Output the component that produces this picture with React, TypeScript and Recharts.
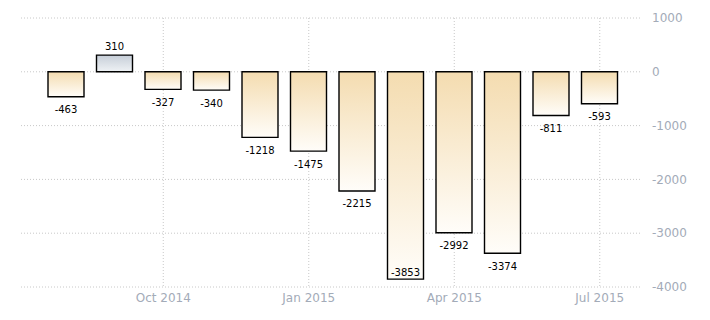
import { BarChart, Bar, XAxis, YAxis, CartesianGrid, Cell, LabelList } from "recharts";

const months = [
  "Aug 2014", "Sep 2014", "Oct 2014", "Nov 2014", "Dec 2014", "Jan 2015",
  "Feb 2015", "Mar 2015", "Apr 2015", "May 2015", "Jun 2015", "Jul 2015",
];
const values = [-463, 310, -327, -340, -1218, -1475, -2215, -3853, -2992, -3374, -811, -593];
const xTicks = ["Oct 2014", "Jan 2015", "Apr 2015", "Jul 2015"];
const yTicks = [1000, 0, -1000, -2000, -3000, -4000];

const data = months.map((m, i) => ({ month: m, value: values[i] }));

const tickStyle = { fill: "#a3abb8", fontSize: 12, fontFamily: "Tahoma, 'DejaVu Sans', sans-serif" };

// value under negative bars, above positive ones, kept inside the plot
const ValueLabel = (props: any) => {
  const { x, y, width, height, value } = props;
  const cx = x + width / 2;
  const top = Math.min(y, y + height);
  const bottom = Math.max(y, y + height);
  const ty = value >= 0 ? top - 9 : Math.min(bottom + 13, 272);
  return (
    <text
      x={cx}
      y={ty}
      textAnchor="middle"
      dominantBaseline="central"
      fill="#000"
      fontSize={10}
      fontFamily="Tahoma, 'DejaVu Sans', sans-serif"
    >
      {value}
    </text>
  );
};

export default function App() {
  return (
    <div style={{ position: "absolute", left: 0, top: 0, width: 710, height: 320, background: "#fff" }}>
      <BarChart
        width={710}
        height={320}
        data={data}
        margin={{ top: 18, left: 21, right: 10, bottom: 8 }}
      >
        <defs>
          <linearGradient id="negFill" x1="0" y1="0" x2="0" y2="1">
            <stop offset="0%" stopColor="#f4dcb0" />
            <stop offset="100%" stopColor="#fffdf9" />
          </linearGradient>
          <linearGradient id="posFill" x1="0" y1="0" x2="0" y2="1">
            <stop offset="0%" stopColor="#c6ced8" />
            <stop offset="100%" stopColor="#eff2f5" />
          </linearGradient>
        </defs>
        <CartesianGrid stroke="#c8c8c8" strokeDasharray="1 2" syncWithTicks />
        <XAxis
          dataKey="month"
          ticks={xTicks}
          interval={0}
          axisLine={false}
          tickLine={false}
          tickMargin={0}
          height={25}
          padding={{ left: 21, right: 16 }}
          tick={tickStyle}
        />
        <YAxis
          orientation="right"
          domain={[-4000, 1000]}
          ticks={yTicks}
          interval={0}
          axisLine={false}
          tickLine={false}
          tickMargin={6}
          width={60}
          tick={tickStyle}
        />
        <Bar dataKey="value" barSize={36} stroke="#000" strokeWidth={1.4} isAnimationActive={false}>
          {data.map((d, i) => (
            <Cell key={i} fill={d.value >= 0 ? "url(#posFill)" : "url(#negFill)"} />
          ))}
          <LabelList dataKey="value" content={ValueLabel} />
        </Bar>
      </BarChart>
    </div>
  );
}
